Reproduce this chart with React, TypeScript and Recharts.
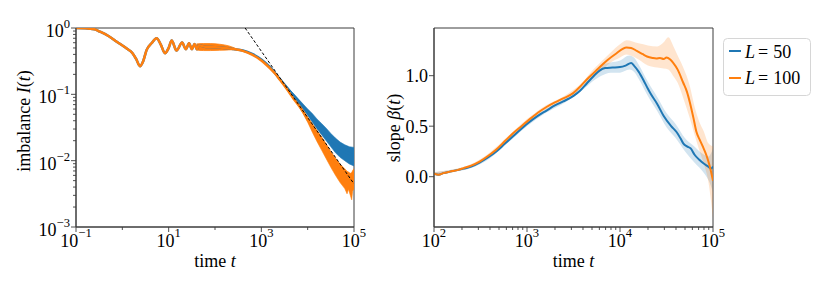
import React from 'react';
import { ComposedChart, Line, Area, XAxis, YAxis, ReferenceArea } from 'recharts';

const FONT = "'Liberation Serif', 'DejaVu Serif', serif";
const BLUE = '#1f77b4';
const ORANGE = '#ff7f0e';
const AX = '#3c3c3c';
const TXT = { fontFamily: FONT };

// ---------- Left panel: imbalance I(t), values as log10(t), log10(I) ----------
const imb100LogT = [-1.0, -0.8, -0.6, -0.48, -0.3, -0.12, 0.095, 0.22, 0.3, 0.38, 0.45, 0.525, 0.63, 0.74, 0.83, 0.92, 1.0, 1.065, 1.17, 1.29, 1.37, 1.44, 1.5, 1.56, 1.61, 1.65, 1.8, 2.0, 2.2, 2.4, 2.6, 2.8, 3.0, 3.1, 3.2, 3.3, 3.4, 3.5, 3.6, 3.7, 3.8, 3.9, 4.0, 4.2, 4.4, 4.6, 4.8, 5.0];
const imb100LogI = [0, -0.003, -0.02, -0.056, -0.12, -0.207, -0.31, -0.38, -0.47, -0.575, -0.5, -0.33, -0.23, -0.156, -0.25, -0.38, -0.3, -0.19, -0.34, -0.22, -0.32, -0.23, -0.32, -0.24, -0.32, -0.26, -0.285, -0.29, -0.3, -0.318, -0.345, -0.4, -0.49, -0.55, -0.615, -0.69, -0.78, -0.87, -0.97, -1.07, -1.16, -1.26, -1.38, -1.62, -1.86, -2.09, -2.27, -2.27];

const imb50LogT = [-1.0, -0.8, -0.6, -0.48, -0.3, -0.12, 0.095, 0.22, 0.3, 0.38, 0.45, 0.525, 0.63, 0.74, 0.83, 0.92, 1.0, 1.065, 1.17, 1.29, 1.37, 1.44, 1.5, 1.56, 1.61, 1.65, 1.8, 2.0, 2.2, 2.4, 2.6, 2.8, 3.0, 3.2, 3.4, 3.6, 3.8, 4.0, 4.2, 4.4, 4.6, 4.8, 5.0];
const imb50LogI = [0, -0.003, -0.02, -0.056, -0.12, -0.207, -0.31, -0.38, -0.47, -0.575, -0.5, -0.33, -0.23, -0.156, -0.25, -0.38, -0.3, -0.19, -0.34, -0.22, -0.32, -0.23, -0.32, -0.24, -0.32, -0.26, -0.285, -0.29, -0.3, -0.318, -0.338, -0.39, -0.475, -0.6, -0.77, -0.94, -1.1, -1.27, -1.44, -1.6, -1.75, -1.86, -1.92];

// fast oscillation envelope (L = 100), log10 values
const osc100LogT = [1.6, 1.75, 1.9, 2.1, 2.3, 2.45];
const osc100Lo = [-0.33, -0.34, -0.34, -0.335, -0.33, -0.325];
const osc100Hi = [-0.24, -0.235, -0.235, -0.245, -0.27, -0.31];

// noisy late-time envelopes, log10 values
const tail100LogT = [3.8, 3.9, 4.0, 4.1, 4.2, 4.3, 4.4, 4.5, 4.6, 4.7, 4.8, 4.85, 4.88, 4.92, 4.95, 4.97, 5.0];
const tail100Lo = [-1.17, -1.29, -1.42, -1.57, -1.71, -1.84, -1.97, -2.1, -2.22, -2.33, -2.42, -2.5, -2.43, -2.52, -2.59, -2.46, -2.42];
const tail100Hi = [-1.14, -1.24, -1.34, -1.44, -1.54, -1.64, -1.75, -1.86, -1.96, -2.05, -2.12, -2.16, -2.17, -2.19, -2.18, -2.15, -2.12];

const tail50LogT = [3.4, 3.6, 3.8, 4.0, 4.1, 4.2, 4.3, 4.4, 4.5, 4.6, 4.7, 4.8, 4.9, 5.0];
const tail50Lo = [-0.78, -0.96, -1.13, -1.32, -1.42, -1.52, -1.61, -1.7, -1.79, -1.88, -1.95, -2.0, -2.05, -2.08];
const tail50Hi = [-0.76, -0.92, -1.07, -1.22, -1.29, -1.37, -1.44, -1.51, -1.59, -1.66, -1.72, -1.76, -1.79, -1.8];

// power-law guide ~ 1/t
const fitLogT = [2.65, 5.0];
const fitLogI = [0, -2.35];

const leftXTicks = [0.1, 10, 1000, 100000];
const leftXTickExp = ['\u22121', '1', '3', '5'];
const leftXMinor = [1, 100, 10000];
const leftYTicks = [1, 0.1, 0.01, 0.001];
const leftYTickExp = ['0', '\u22121', '\u22122', '\u22123'];

// ---------- Right panel: slope beta(t), values as log10(t), beta ----------
const slope100LogT = [2.0, 2.05, 2.1, 2.17, 2.25, 2.32, 2.4, 2.49, 2.58, 2.67, 2.76, 2.85, 2.94, 3.03, 3.12, 3.21, 3.3, 3.39, 3.5, 3.57, 3.64, 3.72, 3.8, 3.86, 3.96, 4.07, 4.12, 4.18, 4.24, 4.29, 4.35, 4.39, 4.43, 4.47, 4.5, 4.54, 4.57, 4.62, 4.68, 4.72, 4.75, 4.79, 4.82, 4.86, 4.89, 4.93, 4.96, 5.0];
const slope100 = [0.03, 0.02, 0.035, 0.05, 0.065, 0.085, 0.11, 0.15, 0.205, 0.27, 0.35, 0.43, 0.5, 0.57, 0.635, 0.69, 0.735, 0.775, 0.83, 0.89, 0.96, 1.03, 1.1, 1.15, 1.22, 1.28, 1.275, 1.245, 1.215, 1.19, 1.175, 1.17, 1.175, 1.165, 1.18, 1.16, 1.13, 1.06, 0.93, 0.84, 0.74, 0.58, 0.45, 0.36, 0.3, 0.21, 0.12, -0.04];

const slope50LogT = [2.0, 2.05, 2.1, 2.17, 2.25, 2.32, 2.4, 2.49, 2.58, 2.67, 2.76, 2.85, 2.94, 3.03, 3.12, 3.21, 3.3, 3.39, 3.5, 3.57, 3.64, 3.72, 3.78, 3.84, 3.92, 4.0, 4.06, 4.12, 4.15, 4.2, 4.25, 4.3, 4.33, 4.4, 4.47, 4.55, 4.61, 4.65, 4.68, 4.72, 4.76, 4.8, 4.85, 4.9, 4.95, 4.98, 5.0];
const slope50 = [0.03, 0.02, 0.035, 0.05, 0.065, 0.08, 0.1, 0.14, 0.19, 0.25, 0.325, 0.4, 0.475, 0.545, 0.605, 0.655, 0.705, 0.745, 0.8, 0.85, 0.92, 1.0, 1.05, 1.075, 1.08, 1.085, 1.1, 1.125, 1.1, 1.04, 0.96, 0.87, 0.82, 0.72, 0.6, 0.5, 0.44, 0.38, 0.33, 0.3, 0.28, 0.22, 0.17, 0.13, 0.1, 0.08, 0.1];

const band100LogT = [2.0, 2.2, 2.4, 2.6, 2.8, 3.0, 3.2, 3.4, 3.6, 3.7, 3.8, 3.9, 4.0, 4.07, 4.2, 4.3, 4.4, 4.47, 4.52, 4.57, 4.62, 4.68, 4.75, 4.8, 4.85, 4.9, 4.95, 5.0];
const band100Lo = [0.015, 0.045, 0.095, 0.2, 0.365, 0.53, 0.665, 0.76, 0.9, 0.97, 1.05, 1.13, 1.18, 1.21, 1.16, 1.1, 1.08, 1.07, 1.06, 1.0, 0.93, 0.78, 0.58, 0.42, 0.27, 0.13, -0.05, -0.41];
const band100Hi = [0.045, 0.07, 0.125, 0.24, 0.405, 0.57, 0.705, 0.8, 0.94, 1.05, 1.14, 1.23, 1.31, 1.35, 1.32, 1.3, 1.29, 1.33, 1.38, 1.3, 1.2, 1.08, 0.9, 0.7, 0.55, 0.45, 0.33, 0.3];

const band50LogT = [2.0, 2.2, 2.4, 2.6, 2.8, 3.0, 3.2, 3.4, 3.6, 3.7, 3.8, 3.9, 4.0, 4.1, 4.15, 4.2, 4.3, 4.4, 4.5, 4.6, 4.7, 4.8, 4.9, 4.95, 5.0];
const band50Lo = [0.015, 0.045, 0.085, 0.18, 0.34, 0.5, 0.63, 0.73, 0.86, 0.94, 1.0, 1.03, 1.03, 1.06, 1.04, 0.97, 0.8, 0.65, 0.49, 0.38, 0.25, 0.14, 0.04, -0.03, -0.15];
const band50Hi = [0.045, 0.07, 0.115, 0.22, 0.38, 0.54, 0.67, 0.77, 0.9, 1.0, 1.1, 1.13, 1.15, 1.2, 1.18, 1.11, 0.94, 0.79, 0.63, 0.52, 0.38, 0.3, 0.22, 0.2, 0.28];

const rightXTicks = [100, 1000, 10000, 100000];
const rightXTickExp = ['2', '3', '4', '5'];
const rightYTicks = [0, 0.5, 1.0];
const rightYTickLabels = ['0.0', '0.5', '1.0'];

// ---------- helpers ----------
const logPts = (lt: number[], ly: number[]) => lt.map((x, i) => ({ t: Math.pow(10, x), v: Math.pow(10, ly[i]) }));
const logBand = (lt: number[], lo: number[], hi: number[]) =>
  lt.map((x, i) => ({ t: Math.pow(10, x), r: [Math.pow(10, lo[i]), Math.pow(10, hi[i])] }));
const linPts = (lt: number[], y: number[]) => lt.map((x, i) => ({ t: Math.pow(10, x), v: y[i] }));
const linBand = (lt: number[], lo: number[], hi: number[]) => lt.map((x, i) => ({ t: Math.pow(10, x), r: [lo[i], hi[i]] }));

const imb100 = logPts(imb100LogT, imb100LogI);
const imb50 = logPts(imb50LogT, imb50LogI);
const osc100 = logBand(osc100LogT, osc100Lo, osc100Hi);
const tail100 = logBand(tail100LogT, tail100Lo, tail100Hi);
const tail50 = logBand(tail50LogT, tail50Lo, tail50Hi);
const fit = logPts(fitLogT, fitLogI);

const s100 = linPts(slope100LogT, slope100);
const s50 = linPts(slope50LogT, slope50);
const b100 = linBand(band100LogT, band100Lo, band100Hi);
const b50 = linBand(band50LogT, band50Lo, band50Hi);

const minorLog = (from: number, to: number) => {
  const out: number[] = [];
  for (let n = from; n < to; n++) for (let k = 2; k <= 9; k++) out.push(k * Math.pow(10, n));
  return out;
};

const MAJOR = 5;
const MINOR = 3;
const FS = 18;
const SUP = 12.6;

const makeXTick = (majors: number[], exps: string[]) => (props: any) => {
  const { x, y, payload } = props;
  const idx = majors.indexOf(payload.value);
  const isMajor = idx >= 0;
  return (
    <g>
      <line x1={x} x2={x} y1={y} y2={y + (isMajor ? MAJOR : MINOR)} stroke={AX} strokeWidth={0.9} />
      {isMajor && (
        <text x={x} y={y + 20} textAnchor="middle" style={TXT} fontSize={FS} fill="#000">
          <tspan>10</tspan>
          <tspan dy={-10} fontSize={SUP}>{exps[idx]}</tspan>
        </text>
      )}
    </g>
  );
};

const makeLogYTick = (majors: number[], exps: string[]) => (props: any) => {
  const { x, y, payload } = props;
  const idx = majors.indexOf(payload.value);
  const isMajor = idx >= 0;
  return (
    <g>
      <line x1={x} x2={x - (isMajor ? MAJOR : MINOR)} y1={y} y2={y} stroke={AX} strokeWidth={0.9} />
      {isMajor && (
        <text x={x - 6} y={y + 9} textAnchor="end" style={TXT} fontSize={FS} fill="#000">
          <tspan>10</tspan>
          <tspan dy={-9} fontSize={SUP}>{exps[idx]}</tspan>
        </text>
      )}
    </g>
  );
};

const makeLinYTick = (majors: number[], labels: string[]) => (props: any) => {
  const { x, y, payload } = props;
  const idx = majors.indexOf(payload.value);
  return (
    <g>
      <line x1={x} x2={x - MAJOR} y1={y} y2={y} stroke={AX} strokeWidth={0.9} />
      <text x={x - 6} y={y + 6.5} textAnchor="end" style={TXT} fontSize={FS} fill="#000">
        {labels[idx]}
      </text>
    </g>
  );
};

const LeftXTick = makeXTick(leftXTicks, leftXTickExp);
const LeftYTick = makeLogYTick(leftYTicks, leftYTickExp);
const RightXTick = makeXTick(rightXTicks, rightXTickExp);
const RightYTick = makeLinYTick(rightYTicks, rightYTickLabels);

const axisCommon = {
  tickLine: false,
  tickSize: 0,
  tickMargin: 0,
  interval: 0 as const,
  axisLine: { stroke: AX, strokeWidth: 1 },
  allowDataOverflow: true,
};

function LeftChart() {
  return (
    <ComposedChart width={370} height={291} margin={{ top: 28, right: 16, bottom: 63, left: 75 }}>
      <XAxis
        type="number"
        dataKey="t"
        scale="log"
        domain={[0.1, 100000]}
        ticks={[...leftXTicks, ...leftXMinor]}
        tick={LeftXTick}
        height={1}
        {...axisCommon}
      />
      <YAxis
        type="number"
        scale="log"
        domain={[0.001, 1]}
        ticks={[...leftYTicks, ...minorLog(-3, 0)]}
        tick={LeftYTick}
        width={1}
        {...axisCommon}
      />
      <ReferenceArea x1={0.1} x2={100000} y1={0.001} y2={1} fill="none" stroke={AX} strokeWidth={1} ifOverflow="visible" />
      <Line data={imb50} dataKey="v" type="monotone" stroke={BLUE} strokeWidth={2.5} dot={false} activeDot={false} isAnimationActive={false} />
      <Area data={tail50} dataKey="r" type="linear" stroke={BLUE} strokeWidth={0.6} fill={BLUE} fillOpacity={1} dot={false} activeDot={false} isAnimationActive={false} />
      <Line data={imb100} dataKey="v" type="monotone" stroke={ORANGE} strokeWidth={2.5} dot={false} activeDot={false} isAnimationActive={false} />
      <Area data={osc100} dataKey="r" type="monotone" stroke={ORANGE} strokeWidth={0.8} fill={ORANGE} fillOpacity={1} dot={false} activeDot={false} isAnimationActive={false} />
      <Area data={tail100} dataKey="r" type="linear" stroke={ORANGE} strokeWidth={0.6} fill={ORANGE} fillOpacity={1} dot={false} activeDot={false} isAnimationActive={false} />
      <Line data={fit} dataKey="v" type="linear" stroke="#000" strokeWidth={1} strokeDasharray="3 2" dot={false} activeDot={false} isAnimationActive={false} />
    </ComposedChart>
  );
}

function RightChart() {
  return (
    <ComposedChart width={470} height={291} margin={{ top: 28, right: 117, bottom: 63, left: 73 }}>
      <XAxis
        type="number"
        dataKey="t"
        scale="log"
        domain={[100, 100000]}
        ticks={[...rightXTicks, ...minorLog(2, 5)]}
        tick={RightXTick}
        height={1}
        {...axisCommon}
      />
      <YAxis
        type="number"
        domain={[-0.498, 1.472]}
        ticks={rightYTicks}
        tick={RightYTick}
        width={1}
        {...axisCommon}
      />
      <ReferenceArea x1={100} x2={100000} y1={-0.498} y2={1.472} fill="none" stroke={AX} strokeWidth={1} ifOverflow="visible" />
      <Area data={b50} dataKey="r" type="monotone" stroke="none" fill={BLUE} fillOpacity={0.2} dot={false} activeDot={false} isAnimationActive={false} />
      <Line data={s50} dataKey="v" type="monotone" stroke={BLUE} strokeWidth={2} dot={false} activeDot={false} isAnimationActive={false} />
      <Area data={b100} dataKey="r" type="monotone" stroke="none" fill={ORANGE} fillOpacity={0.2} dot={false} activeDot={false} isAnimationActive={false} />
      <Line data={s100} dataKey="v" type="monotone" stroke={ORANGE} strokeWidth={2} dot={false} activeDot={false} isAnimationActive={false} />
    </ComposedChart>
  );
}

const legendItems = [
  { color: BLUE, value: '50' },
  { color: ORANGE, value: '100' },
];

function Overlay() {
  return (
    <svg width={830} height={291} style={{ position: 'absolute', left: 0, top: 0, pointerEvents: 'none', fontFamily: FONT }}>
      <g style={TXT} fontSize={FS} fill="#000">
        <text x={215} y={267} textAnchor="middle" style={TXT}>
          time <tspan fontStyle="italic">t</tspan>
        </text>
        <text x={573.5} y={267} textAnchor="middle" style={TXT}>
          time <tspan fontStyle="italic">t</tspan>
        </text>
        <text x={30} y={121} textAnchor="middle" transform="rotate(-90 30 121)" style={TXT}>
          imbalance <tspan fontStyle="italic">I</tspan>(<tspan fontStyle="italic">t</tspan>)
        </text>
        <text x={400} y={128} textAnchor="middle" transform="rotate(-90 400 128)" style={TXT}>
          slope <tspan fontStyle="italic">β</tspan>(<tspan fontStyle="italic">t</tspan>)
        </text>
      </g>
      <rect x={723.5} y={38.5} width={87} height={57} rx={4} fill="#fff" fillOpacity={0.8} stroke="#d6d6d6" strokeWidth={1} />
      {legendItems.map((it, i) => (
        <g key={it.value}>
          <line x1={729} x2={741} y1={51 + i * 27} y2={51 + i * 27} stroke={it.color} strokeWidth={2} />
          <text x={745} y={57.5 + i * 26.5} style={TXT} fontSize={FS} fill="#000">
            <tspan fontStyle="italic">L</tspan>
            <tspan dx={3}>=</tspan>
            <tspan dx={5}>{it.value}</tspan>
          </text>
        </g>
      ))}
    </svg>
  );
}

export default function App() {
  return (
    <div style={{ position: 'absolute', left: 0, top: 0, width: 830, height: 291, background: '#fff', fontFamily: FONT }}>
      <div style={{ position: 'absolute', left: 0, top: 0 }}>
        <LeftChart />
      </div>
      <div style={{ position: 'absolute', left: 360, top: 0 }}>
        <RightChart />
      </div>
      <Overlay />
    </div>
  );
}
